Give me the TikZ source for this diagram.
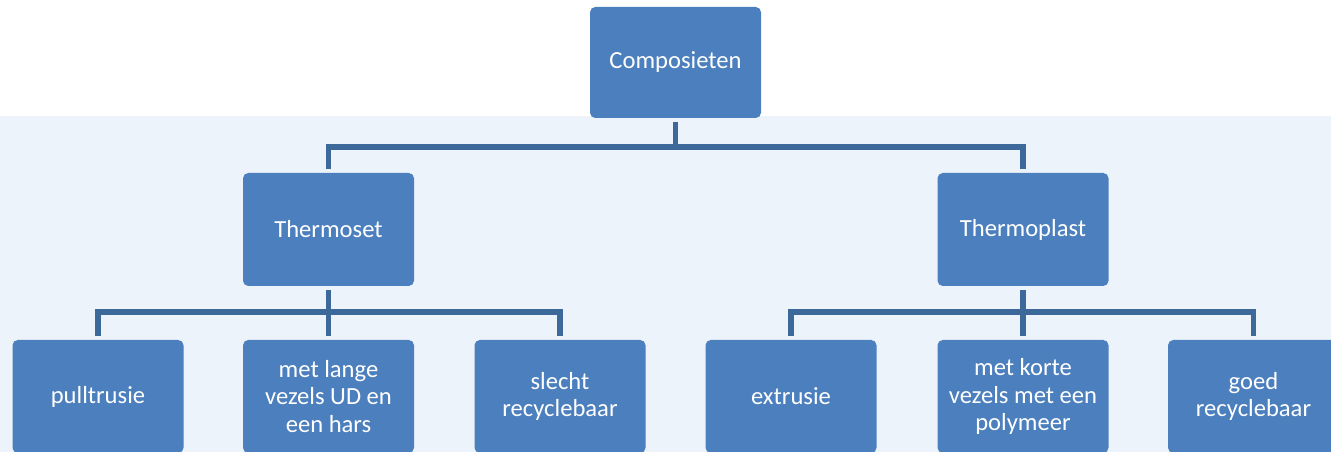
\documentclass[tikz,border=0pt]{standalone}
\usepackage{fontspec}
\setmainfont{Carlito}
\definecolor{boxblue}{RGB}{76,127,189}
\definecolor{linkblue}{RGB}{60,104,154}
\definecolor{paleblue}{RGB}{237,243,250}
\tikzset{
  box/.style={fill=boxblue, rounded corners=3pt, minimum width=3.42cm, minimum height=2.22cm,
    inner sep=0pt, outer sep=0.08cm, text=white, align=center,
    font=\fontsize{14}{15.5}\selectfont},
  link/.style={draw=linkblue, line width=3.3pt}
}
\begin{document}
\begin{tikzpicture}
    \useasboundingbox (0,0) rectangle (26.62,9.04);
    \clip (0,0) rectangle (26.62,9.04);
    \fill[paleblue] (0,0) rectangle (26.62,6.72);
    % top level
    \node[box] (comp) at (13.51,7.79) {Composieten};
    % second level
    \node[box, minimum height=2.26cm] (tset) at (6.57,4.45) {Thermoset};
    \node[box, minimum height=2.26cm] (tplast) at (20.46,4.45) {Thermoplast};
    % third level
    \node[box, minimum height=2.26cm] (pull) at (1.96,1.11) {pulltrusie};
    \node[box, minimum height=2.26cm] (lang) at (6.57,1.11) {met lange\\vezels UD en\\een hars};
    \node[box, minimum height=2.26cm] (slecht) at (11.20,1.11) {slecht\\recyclebaar};
    \node[box, minimum height=2.26cm] (extr) at (15.82,1.11) {extrusie};
    \node[box, minimum height=2.26cm] (kort) at (20.46,1.11) {met korte\\vezels met een\\polymeer};
    \node[box, minimum height=2.26cm] (goed) at (25.07,1.11) {goed\\recyclebaar};
    % connectors
    \foreach \child in {tset,tplast}
        \draw[link] (comp.south) -- ++(0,-0.5) -| (\child.north);
    \foreach \child in {pull,lang,slecht}
        \draw[link] (tset.south) -- ++(0,-0.44) -| (\child.north);
    \foreach \child in {extr,kort,goed}
        \draw[link] (tplast.south) -- ++(0,-0.44) -| (\child.north);
\end{tikzpicture}
\end{document}
